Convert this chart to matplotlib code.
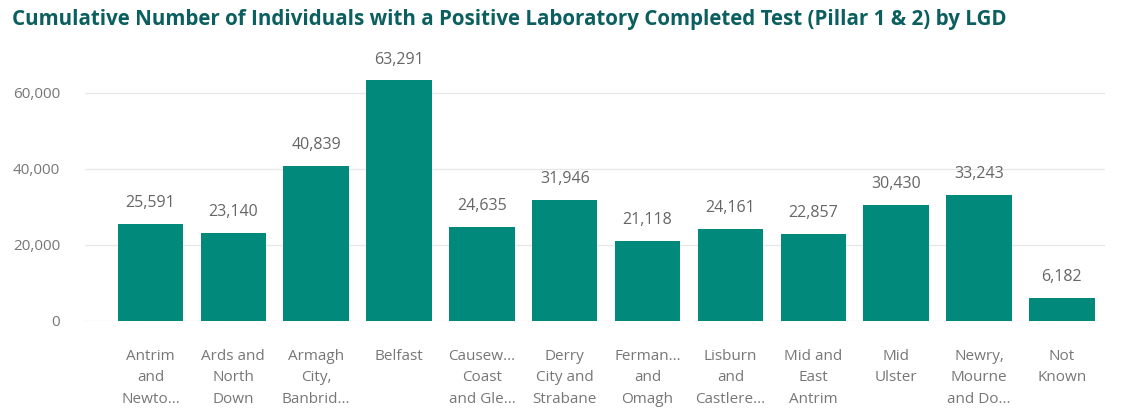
import matplotlib.pyplot as plt
import numpy as np

plt.rcParams['font.family'] = ['Open Sans', 'DejaVu Sans']

lgds = ['Antrim\nand\nNewto...', 'Ards and\nNorth\nDown', 'Armagh\nCity,\nBanbrid...', 'Belfast',
        'Causew...\nCoast\nand Gle...', 'Derry\nCity and\nStrabane', 'Ferman...\nand\nOmagh',
        'Lisburn\nand\nCastlere...', 'Mid and\nEast\nAntrim', 'Mid\nUlster', 'Newry,\nMourne\nand Do...',
        'Not\nKnown']
cases = [25591, 23140, 40839, 63291, 24635, 31946, 21118, 24161, 22857, 30430, 33243, 6182]

bar_color = '#01897b'
text_grey = '#666666'

fig = plt.figure(figsize=(11.24, 4.12), dpi=100)
ax = fig.add_axes([85 / 1124, 1 - 321 / 412, (1105 - 85) / 1124, (321 - 55) / 412])

x = np.arange(len(cases))
bars = ax.bar(x, cases, width=0.79, color=bar_color, zorder=2)
for b, v in zip(bars, cases):
    ax.text(b.get_x() + b.get_width() / 2, v + 3400, f'{v:,}', ha='center', va='bottom',
            fontsize=11.5, color=text_grey)

ax.set_xlim(-0.79, 11.52)
ax.set_ylim(0, 70000)
ax.set_yticks([0, 20000, 40000, 60000])
ax.set_yticklabels(['0', '20,000', '40,000', '60,000'])
ax.set_xticks(x)
ax.set_xticklabels(lgds, linespacing=1.6)
ax.tick_params(axis='both', length=0, labelsize=11, labelcolor='#777777')
ax.tick_params(axis='x', pad=20)
ax.tick_params(axis='y', pad=18)
ax.grid(axis='y', color='#e8e8e8', linewidth=1, zorder=0)
for s in ax.spines.values():
    s.set_visible(False)

fig.text(12 / 1124, 1 - 20 / 412, 'Cumulative Number of Individuals with a Positive Laboratory Completed Test (Pillar 1 & 2) by LGD',
         fontsize=14.8, fontweight='bold', color='#0b5f5f', va='center', ha='left')

fig.savefig('out.png', dpi=100)
